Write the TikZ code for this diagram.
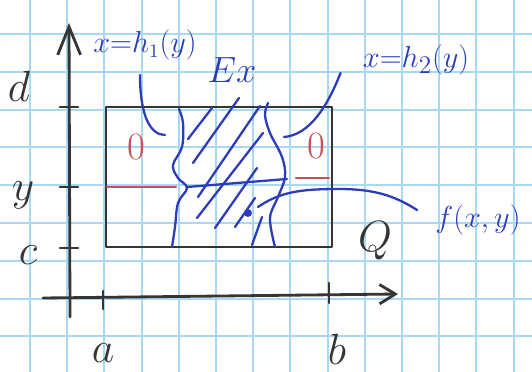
\documentclass[tikz,border=0pt]{standalone}
\usepackage{amsmath}
\usepackage{xcolor}
\usetikzlibrary{arrows.meta,positioning}
\definecolor{pencil}{HTML}{353535}
\definecolor{ink}{HTML}{2B3DB8}
\definecolor{redpen}{HTML}{C8505C}
\definecolor{gridblue}{HTML}{A9D8F5}

\begin{document}
\begin{tikzpicture}[x=0.02cm, y=-0.02cm,
  pen/.style={draw=pencil,line width=1.6pt,line cap=round,line join=round},
  inkline/.style={draw=ink,line width=1.3pt,line cap=round,line join=round},
  redline/.style={draw=redpen,line width=1.3pt,line cap=round},
  lbl/.style={inner sep=0pt,text=pencil,font=\fontsize{28}{30}\selectfont},
  inklbl/.style={inner sep=0pt,text=ink},
  zero/.style={inner sep=0pt,text=redpen,font=\fontsize{22}{24}\selectfont},
  yarr/.style={-{Straight Barb[length=16pt,width=13pt]}},
  xarr/.style={-{Straight Barb[length=9pt,width=11pt]}}]
\useasboundingbox (0,0) rectangle (532,372);
\fill[white] (0,0) rectangle (532,372);
\foreach \gx in {0,...,13} \draw[gridblue,line width=1.1pt] ({30+37.2*\gx},0) -- ({30+37.2*\gx},372);
\foreach \gy in {0,...,8} \draw[gridblue,line width=1.1pt] (0,{34+37.8*\gy}) -- (532,{34+37.8*\gy});

\coordinate (ybot) at (70,317);
\coordinate (ytop) at (69,23);
\coordinate (xleft) at (43,298);
\coordinate (xtip) at (398,294);
\coordinate (Qsw) at (106,247);
\coordinate (Qne) at (332,107);
\draw[pen,yarr] (ybot) -- (ytop);
\draw[pen,xarr] (xleft) -- (xtip);
\draw[pen] (Qsw) rectangle (Qne);

\foreach \ty in {107,187,248} \draw[pen] (60,\ty) -- (78,\ty);
\draw[pen] (103,291) -- (103,309);
\draw[pen] (329,283) -- (329,303);
\node[lbl] (d) at (19,86) {$d$};
\node[lbl] (y) at (23,195) {$y$};
\node[lbl] (c) at (28,255) {$c$};
\node[lbl] (a) at (103,353) {$a$};
\node[lbl] (b) at (337,349) {$b$};
\node[lbl,font=\fontsize{30}{32}\selectfont] (Q) at (375,241) {$Q$};

\node[zero] (zl) at (136,147) {0};
\node[zero] (zr) at (316,146) {0};
\draw[redline] (107,187) -- (176,187);
\draw[redline] (296,178) -- (329,178);

\draw[inkline] plot[smooth,tension=0.6] coordinates {(179,109) (183,123) (182,147) (173,165) (178,178) (187,188) (178,203) (175,227) (172,247)};
\draw[inkline] plot[smooth,tension=0.6] coordinates {(268,103) (265,115) (270,133) (282,157) (285,177) (278,197) (270,218) (275,247)};
\draw[inkline] (187,187) -- (287,179);
\foreach \p/\q in {{188,139}/{212,108}, {193,163}/{239,98}, {198,197}/{260,106}, {197,218}/{263,133}, {215,228}/{257,168}, {235,227}/{255,198}, {252,245}/{262,217}}
  \draw[inkline] (\p) -- (\q);

\node[inklbl,font=\fontsize{16}{18}\selectfont] (h1) at (145,45) {$x{=}h_1(y)$};
\node[inklbl,font=\fontsize{19}{21}\selectfont] (h2) at (416,60) {$x{=}h_2(y)$};
\node[inklbl,font=\fontsize{22}{24}\selectfont] (Ex) at (232,70) {$Ex$};
\node[inklbl,font=\fontsize{19}{21}\selectfont] (f) at (478,220) {$f(x,y)$};
\node[circle,fill=ink,inner sep=0pt,minimum size=4.5pt] (pt) at (248,213) {};

\draw[inkline] (140,75) .. controls (140,115) and (150,135) .. (165,135);
\draw[inkline] ([shift={(-22,13)}]h2.west) .. controls (328,105) and (310,135) .. (284,137);
\draw[inkline] ([shift={(10,-6)}]pt.center) .. controls (280,192) and (300,189) .. (339,189) .. controls (375,189) and (395,196) .. ([shift={(-18,-10)}]f.west);
\end{tikzpicture}
\end{document}
